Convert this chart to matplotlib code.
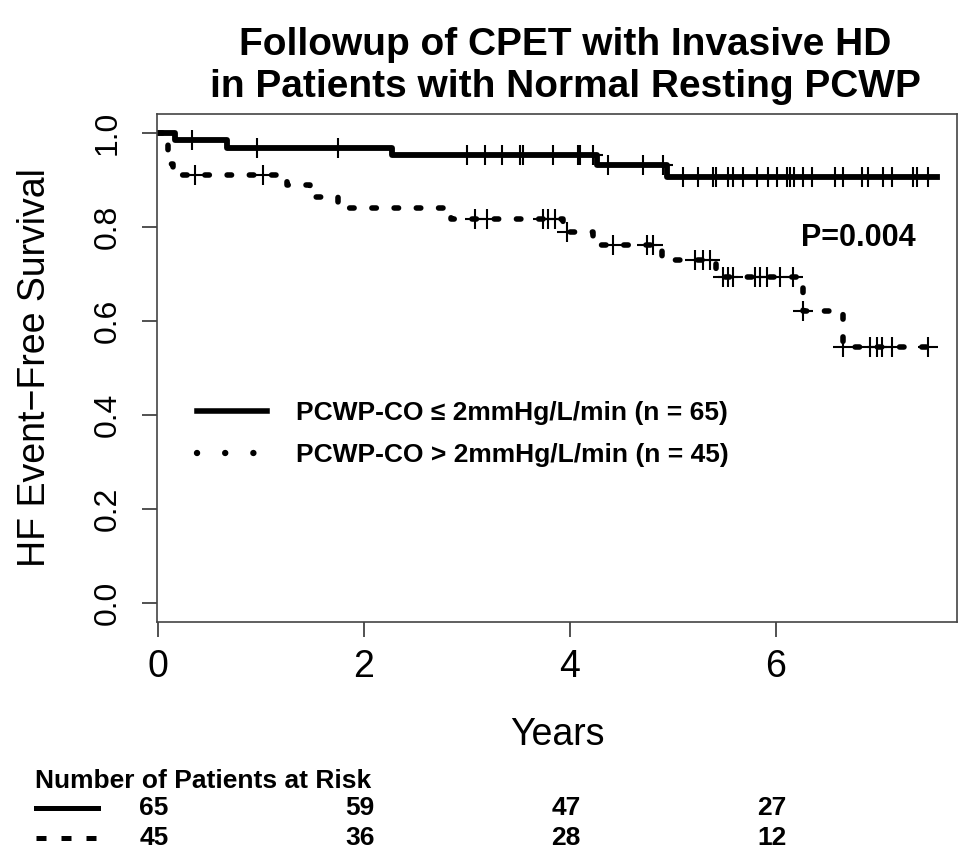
import matplotlib
matplotlib.use("Agg")
import matplotlib.pyplot as plt
from matplotlib.lines import Line2D
from matplotlib.transforms import blended_transform_factory
import numpy as np

plt.rcParams['font.family'] = ['Liberation Sans', 'DejaVu Sans']

# Kaplan-Meier steps
# group 1: PCWP-CO <= 2 mmHg/L/min
t_low = [0.0, 0.165, 0.67, 2.27, 4.26, 4.94]
s_low = [1.0, 0.985, 0.968, 0.953, 0.932, 0.906]
cens_low = [0.33, 0.96, 1.75, 3.00, 3.17, 3.34, 3.51, 3.54, 3.83, 4.08, 4.10,
            4.22, 4.37, 4.71, 4.90, 5.10, 5.24, 5.39, 5.42, 5.53, 5.58, 5.68,
            5.82, 5.92, 6.01, 6.11, 6.14, 6.17, 6.26, 6.35, 6.57, 6.65, 6.83,
            6.89, 7.04, 7.13, 7.33, 7.37, 7.48]

# group 2: PCWP-CO > 2 mmHg/L/min
t_high = [0.0, 0.08, 0.10, 0.12, 0.15, 1.25, 1.48, 1.75, 2.84, 3.93, 4.22,
          4.89, 5.42, 6.26, 6.65]
s_high = [1.0, 0.978, 0.956, 0.933, 0.911, 0.888, 0.863, 0.840, 0.816, 0.788,
          0.761, 0.729, 0.694, 0.621, 0.543]
cens_high = [0.36, 1.02, 3.08, 3.19, 3.74, 3.79, 3.85, 3.97, 4.42, 4.75, 4.81,
             5.21, 5.29, 5.36, 5.49, 5.53, 5.58, 5.80, 5.84, 5.91, 6.04, 6.16,
             6.26, 6.65, 6.91, 6.98, 7.03, 7.13, 7.48]

t_end = 7.56

risk_times = [0, 2, 4, 6]
risk_low = [65, 59, 47, 27]
risk_high = [45, 36, 28, 12]

labels = ["PCWP-CO \u2264 2mmHg/L/min (n = 65)",
          "PCWP-CO > 2mmHg/L/min (n = 45)"]


def surv_at(times, surv, t):
    i = np.searchsorted(times, t, side='right') - 1
    return np.asarray(surv)[i]


fig = plt.figure(figsize=(9.59, 8.49), dpi=100)
ax = fig.add_axes([157/959, 1 - 621.5/849, 800/959, 507.6/849])

ax.step(t_low + [t_end], s_low + [s_low[-1]], where='post', color='black',
        lw=4.2)
ax.step(t_high + [t_end], s_high + [s_high[-1]], where='post', color='black',
        lw=4.0, linestyle=(0, (0.8, 3.2)), dash_capstyle='round')

ax.plot(cens_low, surv_at(t_low, s_low, cens_low), '+', color='black',
        ms=15, mew=1.5)
ax.plot(cens_high, surv_at(t_high, s_high, cens_high), '+', color='black',
        ms=15, mew=1.5)

ax.set_xlim(-0.01, 7.757)
ax.set_ylim(-0.04, 1.04)
ax.set_xticks([0, 2, 4, 6])
ax.set_yticks([0.0, 0.2, 0.4, 0.6, 0.8, 1.0])
ax.set_yticklabels(['0.0', '0.2', '0.4', '0.6', '0.8', '1.0'])
ax.tick_params(axis='both', direction='out', length=11, width=1.2,
               color='#333333')
ax.tick_params(axis='x', labelsize=27, pad=9)
ax.tick_params(axis='y', labelsize=23, pad=14, labelrotation=90)
for lab in ax.get_yticklabels():
    lab.set_va('center')
for sp in ax.spines.values():
    sp.set_linewidth(1.2)
    sp.set_color('#444444')

ax.set_xlabel('Years', fontsize=27)
ax.xaxis.set_label_coords(0.5, -0.2236)
ax.xaxis.label.set_va('center')
ax.set_ylabel('HF Event\u2212Free Survival', fontsize=27)
ax.yaxis.set_label_coords(-0.1525, 0.5)
ax.yaxis.label.set_va('center')

handles = [Line2D([], [], color='black', lw=4.0),
           Line2D([], [], color='black', lw=4.6, linestyle=(0, (0.01, 4.4)),
                  dash_capstyle='round')]
ax.legend(handles, labels, loc='upper left',
          bbox_to_anchor=(40/800, (621.5 - 401)/507.6),
          frameon=False, prop={'weight': 'bold', 'size': 19},
          handlelength=2.65, handletextpad=1.1, labelspacing=0.7,
          borderaxespad=0, borderpad=0)

ax.text(7.36, 0.775, 'P=0.004', fontsize=22, fontweight='bold', ha='right',
        va='center')

fig.text(565/959, 1 - 55/849, 'Followup of CPET with Invasive HD',
         fontsize=28, fontweight='bold', ha='center', va='baseline')
fig.text(565/959, 1 - 97/849, 'in Patients with Normal Resting PCWP',
         fontsize=28, fontweight='bold', ha='center', va='baseline')

# number at risk table
fig.text(35/959, 1 - 781/849, 'Number of Patients at Risk', fontsize=19,
         fontweight='bold', ha='left', va='center')
tr = blended_transform_factory(ax.transData, fig.transFigure)
for tt, n1, n2 in zip(risk_times, risk_low, risk_high):
    fig.text(tt - 0.04, 1 - 808/849, str(n1), transform=tr, fontsize=19,
             fontweight='bold', ha='center', va='center')
    fig.text(tt - 0.04, 1 - 838/849, str(n2), transform=tr, fontsize=19,
             fontweight='bold', ha='center', va='center')
fig.add_artist(Line2D([36/959, 98/959], [1 - 808/849] * 2, color='black',
                      lw=3.6, transform=fig.transFigure))
fig.add_artist(Line2D([36/959, 96/959], [1 - 838/849] * 2, color='black',
                      lw=3.6, linestyle=(0, (2.0, 3.0)),
                      transform=fig.transFigure))

fig.savefig('out.png', dpi=100)
